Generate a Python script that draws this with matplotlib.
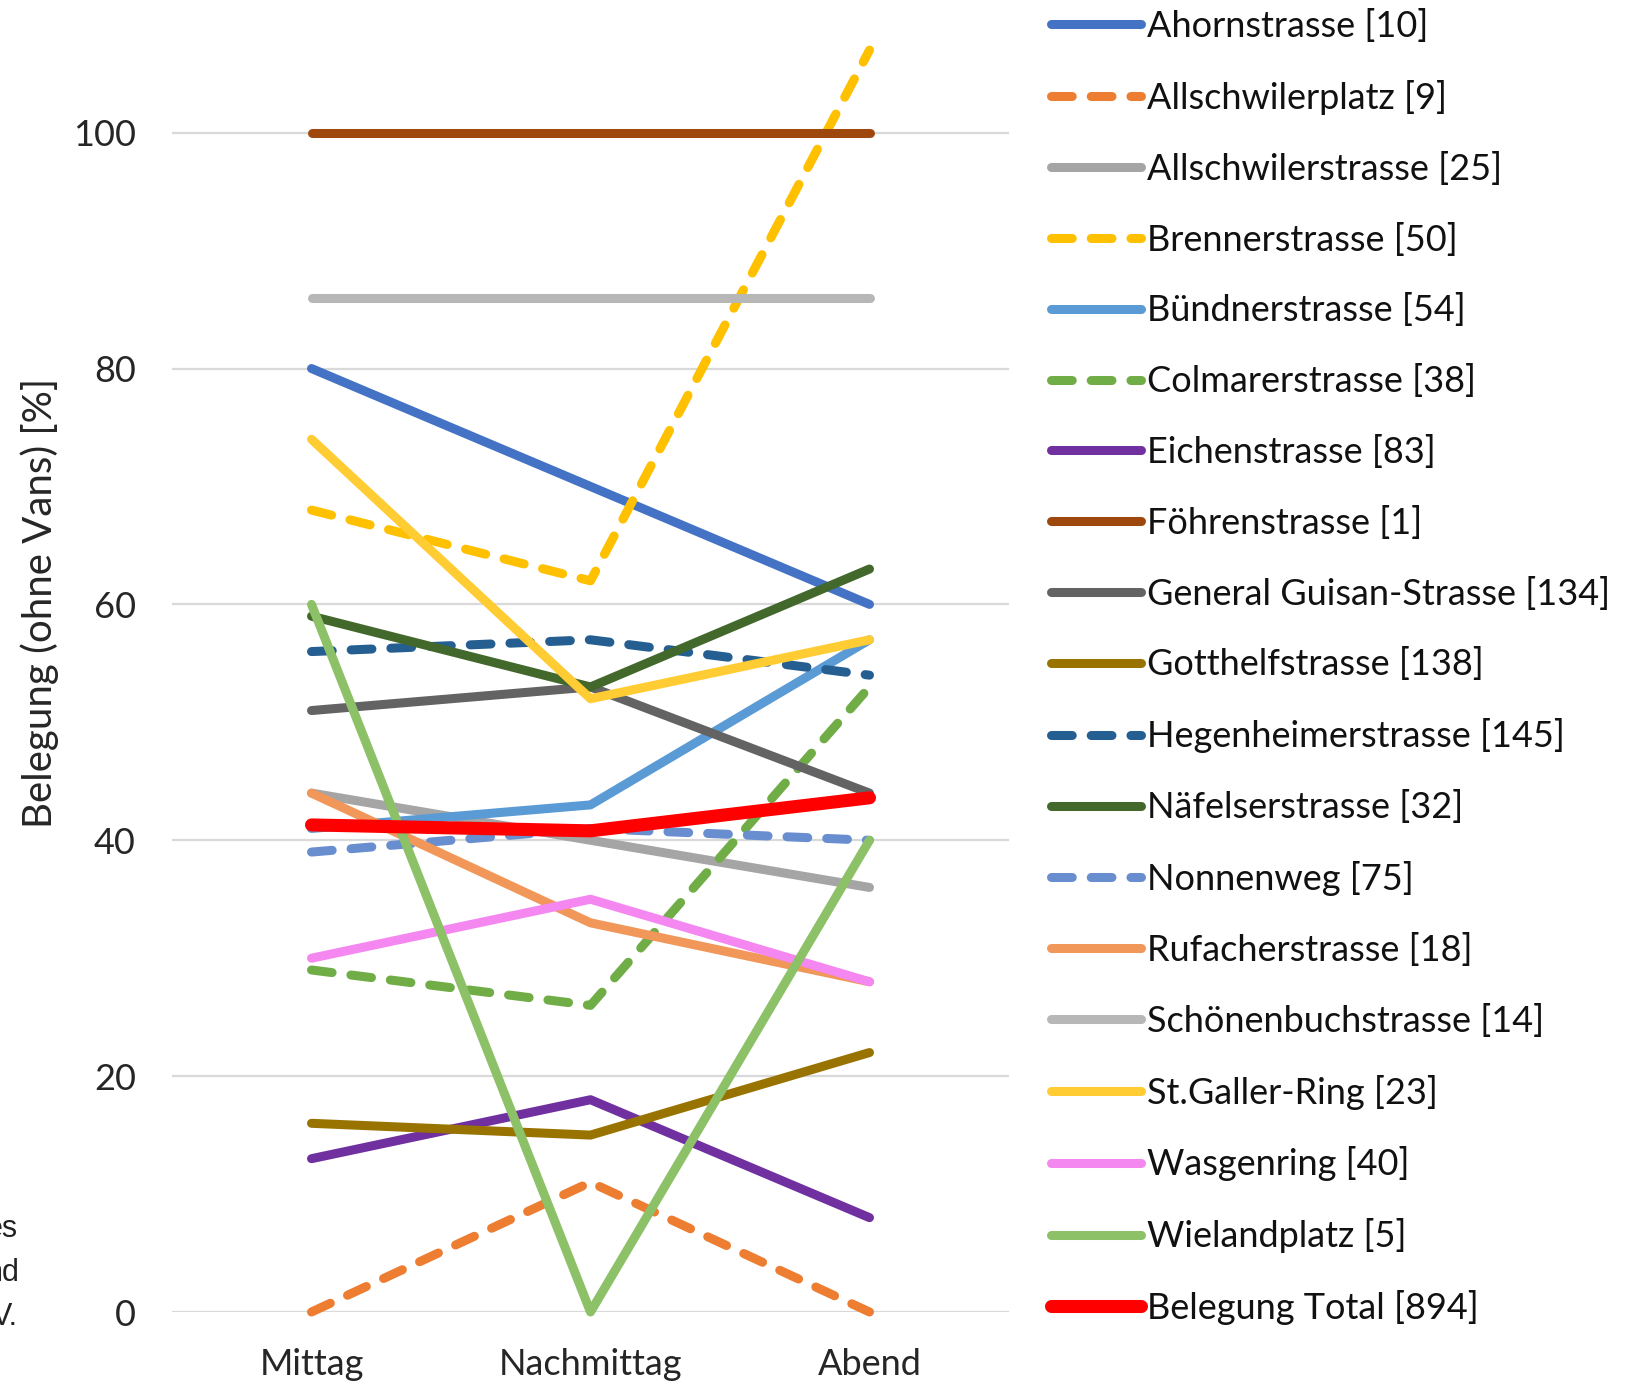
import matplotlib
matplotlib.use("Agg")
import matplotlib.pyplot as plt

plt.rcParams['font.family'] = ['Lato', 'DejaVu Sans']

# Time slots on the x axis
zeitfenster = ["Mittag", "Nachmittag", "Abend"]

# Parking stations and their number of spaces
stationen = [
    "Ahornstrasse", "Allschwilerplatz", "Allschwilerstrasse", "Brennerstrasse",
    "Bündnerstrasse", "Colmarerstrasse", "Eichenstrasse", "Föhrenstrasse",
    "General Guisan-Strasse", "Gotthelfstrasse", "Hegenheimerstrasse",
    "Näfelserstrasse", "Nonnenweg", "Rufacherstrasse", "Schönenbuchstrasse",
    "St.Galler-Ring", "Wasgenring", "Wielandplatz", "Belegung Total",
]
plaetze = [10, 9, 25, 50, 54, 38, 83, 1, 134, 138, 145, 32, 75, 18, 14, 23, 40, 5, 894]

# Occupancy in percent (Mittag, Nachmittag, Abend)
ahornstrasse = [80, 70, 60]
allschwilerplatz = [0, 11, 0]
allschwilerstrasse = [44, 40, 36]
brennerstrasse = [68, 62, 107]
buendnerstrasse = [41, 43, 57]
colmarerstrasse = [29, 26, 53]
eichenstrasse = [13, 18, 8]
foehrenstrasse = [100, 100, 100]
general_guisan = [51, 53, 44]
gotthelfstrasse = [16, 15, 22]
hegenheimerstrasse = [56, 57, 54]
naefelserstrasse = [59, 53, 63]
nonnenweg = [39, 41, 40]
rufacherstrasse = [44, 33, 28]
schoenenbuchstrasse = [86, 86, 86]
st_galler_ring = [74, 52, 57]
wasgenring = [30, 35, 28]
wielandplatz = [60, 0, 40]
belegung_total = [41.3, 40.8, 43.6]

werte = [
    ahornstrasse, allschwilerplatz, allschwilerstrasse, brennerstrasse,
    buendnerstrasse, colmarerstrasse, eichenstrasse, foehrenstrasse,
    general_guisan, gotthelfstrasse, hegenheimerstrasse, naefelserstrasse,
    nonnenweg, rufacherstrasse, schoenenbuchstrasse, st_galler_ring,
    wasgenring, wielandplatz, belegung_total,
]

farben = [
    "#4472C4", "#ED7D31", "#A5A5A5", "#FFC000", "#5B9BD5", "#70AD47",
    "#7030A0", "#9E480E", "#636363", "#997300", "#255E91", "#43682B",
    "#698ED0", "#F1975A", "#B7B7B7", "#FFCD33", "#F587F0", "#8CC168",
    "#FF0000",
]
gestrichelt = [False, True, False, True, False, True, False, False, False,
               False, True, False, True, False, False, False, False, False,
               False]

W, H = 1635, 1384
fig = plt.figure(figsize=(W / 100, H / 100), dpi=100)
ax = fig.add_axes([172 / W, (H - 1312) / H, (1009 - 172) / W, 1312 / H])

x = list(range(len(zeitfenster)))
for name, n, y, c, dash in zip(stationen, plaetze, werte, farben, gestrichelt):
    lw = 9.4 if name == "Belegung Total" else 6.5
    kw = dict(color=c, lw=lw, solid_capstyle="round", solid_joinstyle="round",
              dash_capstyle="round", dash_joinstyle="round", clip_on=False,
              label=f"{name} [{n}]")
    if dash:
        kw["linestyle"] = (0, (2.3, 2.1))
    ax.plot(x, y, **kw)

ax.set_xlim(-0.5, 2.5)
ax.set_ylim(0, 111.25)
ax.set_yticks([0, 20, 40, 60, 80, 100])
ax.set_xticks(x)
ax.set_xticklabels(zeitfenster)
ax.yaxis.grid(True, color="#D9D9D9", lw=1.6)
ax.set_axisbelow(True)
for s in ax.spines.values():
    s.set_visible(False)
ax.tick_params(axis="both", length=0, labelsize=26, labelcolor="#262626")
ax.tick_params(axis="y", pad=26)
ax.tick_params(axis="x", pad=26)

ax.set_ylabel("Belegung (ohne Vans) [%]", fontsize=29, color="#262626",
              va="center")
ax.yaxis.set_label_coords((40 - 172) / 837, (1312 - 603) / 1312)

fig.legend(loc="upper left", bbox_to_anchor=(1051 / W, 1 - 9 / H),
           frameon=False, fontsize=26, handlelength=2.49, handletextpad=0.17,
           labelspacing=1.02, borderpad=0, borderaxespad=0,
           labelcolor="#111111")

# Fragments of neighbouring text at the left edge
for txt, xr, yb in [("es", 18, 1237), ("nd", 20, 1281), ("V.", 18, 1325)]:
    fig.text(xr / W, 1 - yb / H, txt, ha="right", va="baseline",
             fontsize=22, family="Liberation Sans", color="#222222")

fig.savefig("out.png", dpi=100)
